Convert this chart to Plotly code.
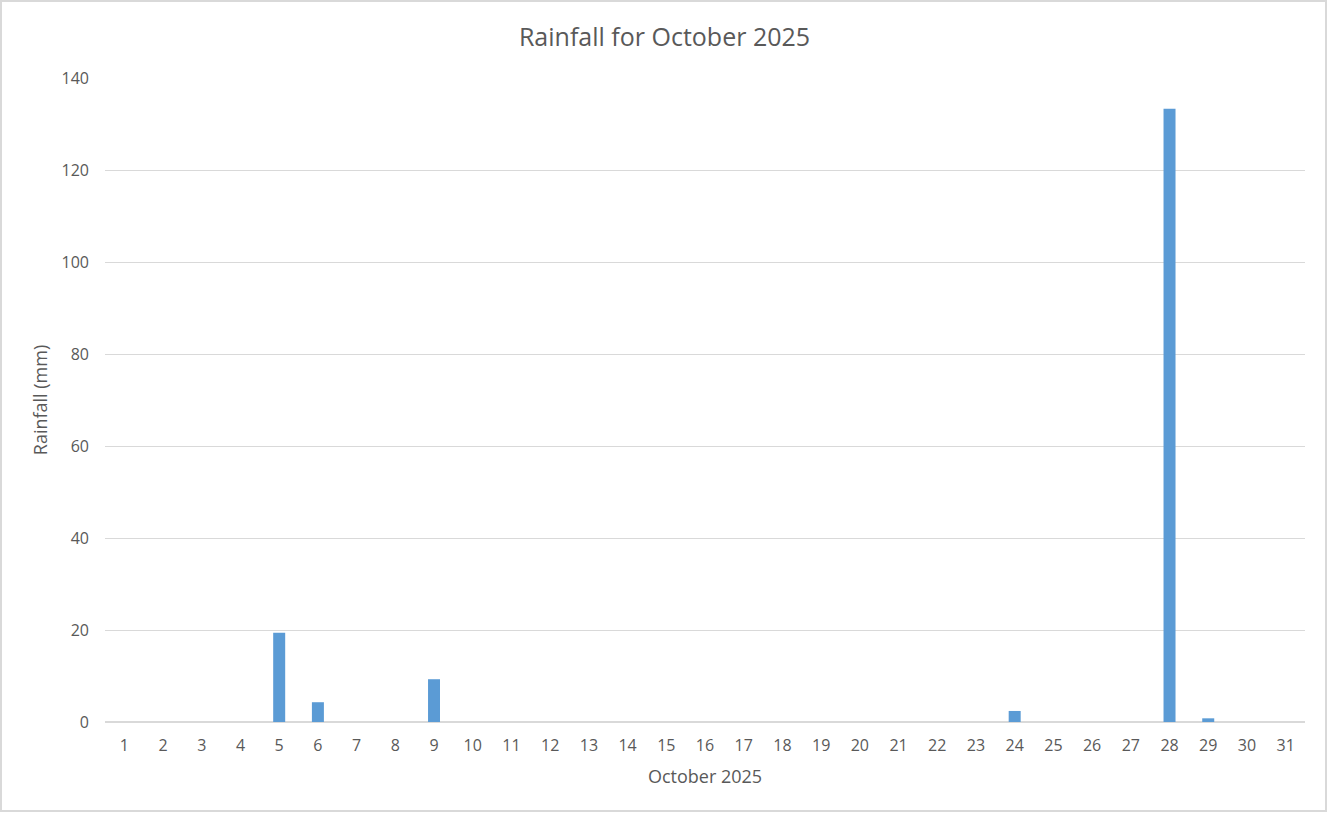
import plotly.graph_objects as go

days = [str(d) for d in range(1, 32)]
rainfall = [0, 0, 0, 0, 19.4, 4.3, 0, 0, 9.3, 0,
            0, 0, 0, 0, 0, 0, 0, 0, 0, 0,
            0, 0, 0, 2.4, 0, 0, 0, 133.3, 0.8, 0,
            0]

W, H = 1329, 815
ml, mr, mt, mb = 105, 24, 78, 93
pw, ph = W - ml - mr, H - mt - mb

fig = go.Figure()
fig.add_trace(go.Bar(x=days, y=rainfall, marker=dict(color='#5b9bd5', line=dict(width=0)),
                     name='Rainfall'))

fig.update_layout(
    width=W,
    height=H,
    margin=dict(l=ml, r=mr, t=mt, b=mb),
    paper_bgcolor='white',
    plot_bgcolor='white',
    font=dict(family='Open Sans, Liberation Sans, sans-serif', size=16, color='#595959'),
    title=dict(text='Rainfall for October 2025', x=0.5, xanchor='center', y=1 - 37 / H,
               yanchor='middle', font=dict(size=25, color='#595959')),
    showlegend=False,
    bargap=0.69,
    xaxis=dict(title=dict(text='October 2025', standoff=15, font=dict(size=18)),
               type='category', showgrid=False, showline=True, linecolor='#d9d9d9',
               linewidth=1, ticks='', ticklabelstandoff=9, tickfont=dict(size=16)),
    yaxis=dict(title=dict(text='Rainfall (mm)', standoff=9, font=dict(size=18)),
               range=[0, 140], dtick=20, showgrid=True, gridcolor='#d9d9d9', gridwidth=1,
               zeroline=True, zerolinecolor='#d9d9d9', showline=False, ticks='',
               ticklabelstandoff=15, tickfont=dict(size=16)),
    shapes=[dict(type='rect', xref='paper', yref='paper',
                 x0=(1 - ml) / pw, x1=(1326 - ml) / pw,
                 y0=-(811 - (H - mb)) / ph, y1=1 + (mt - 1) / ph,
                 line=dict(color='#d9d9d9', width=2))],
)

fig.write_html("out.html", config={"displayModeBar": False},
               post_script="document.body.style.margin='0';")
